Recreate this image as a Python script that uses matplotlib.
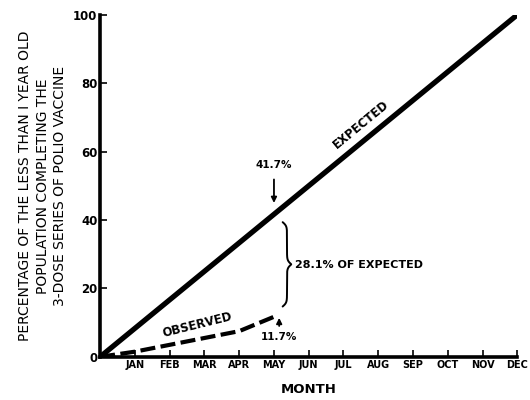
import matplotlib
matplotlib.use('Agg')
import matplotlib.pyplot as plt
import numpy as np

plt.rcParams['font.family'] = ['Liberation Sans Narrow', 'DejaVu Sans']

months = ['JAN', 'FEB', 'MAR', 'APR', 'MAY', 'JUN', 'JUL', 'AUG', 'SEP', 'OCT', 'NOV', 'DEC']
expectedX = [0, 12]
expectedY = [0, 100]
observedX = [0, 1, 2, 3, 4, 5]
observedY = [0, 1.5, 3.5, 5.5, 7.5, 11.7]
yTicks = [0, 20, 40, 60, 80, 100]


def brace(ax, x, y0, y1, w, k=22):
    t = np.linspace(0, 1, 300)
    u = np.minimum(t, 1 - t)
    g = w / 2 * np.tanh(k * u) + w / 2 * (1 - np.tanh(k * (0.5 - u)))
    ax.plot(x + g, y0 + (y1 - y0) * t, color='black', lw=1.4, solid_capstyle='round')


def main():
    fig = plt.figure(figsize=(5.3, 4), dpi=100)
    ax = fig.add_axes([0.189, 0.108, 0.787, 0.855])

    ax.plot(expectedX, expectedY, color='black', lw=3.8, solid_capstyle='butt')
    ax.plot(observedX, observedY, color='black', lw=3.0, dashes=(3.6, 1.3), dash_capstyle='butt')

    ax.set_xlim(0, 12)
    ax.set_ylim(0, 100)
    ax.set_xticks(range(1, 13))
    ax.set_xticklabels(months, fontsize=7, fontweight='bold')
    ax.set_yticks(yTicks)
    ax.set_yticklabels([str(v) for v in yTicks], fontsize=8.5, fontweight='bold')
    ax.tick_params(axis='both', direction='in', length=5, width=1.2)
    ax.tick_params(axis='x', pad=2)
    ax.tick_params(axis='y', pad=2)

    for side in ['top', 'right']:
        ax.spines[side].set_visible(False)
    for side in ['left', 'bottom']:
        ax.spines[side].set_linewidth(2.6)

    ax.set_xlabel('MONTH', fontsize=9.5, fontweight='bold', labelpad=10)
    ax.set_ylabel('PERCENTAGE OF THE LESS THAN I YEAR OLD\nPOPULATION COMPLETING THE\n3-DOSE SERIES OF POLIO VACCINE',
                  fontsize=10, linespacing=1.35, labelpad=4)

    ax.text(7.5, 68, 'EXPECTED', rotation=39.5, fontsize=8.5, fontweight='bold',
            ha='center', va='center', rotation_mode='anchor')
    ax.text(2.8, 9.2, 'OBSERVED', rotation=14, fontsize=8.5, fontweight='bold',
            ha='center', va='center', rotation_mode='anchor')

    may = 5
    expMay = expectedY[1] * may / expectedX[1]
    obsMay = observedY[-1]
    ax.annotate('', xy=(may, expMay + 2.5), xytext=(may, expMay + 11),
                arrowprops=dict(arrowstyle='-|>', color='black', lw=1.3, mutation_scale=8))
    ax.text(may, expMay + 13, '41.7%', fontsize=7.5, fontweight='bold', ha='center', va='bottom')

    ax.annotate('', xy=(may + 0.15, obsMay + 0.5), xytext=(may + 0.15, obsMay - 3.5),
                arrowprops=dict(arrowstyle='-|>', color='black', lw=1.3, mutation_scale=8))
    ax.text(may + 0.15, obsMay - 4.5, '11.7%', fontsize=7.5, fontweight='bold', ha='center', va='top')

    brace(ax, may + 0.25, obsMay + 3, expMay - 2.3, 0.25)
    ax.text(may + 0.6, 26.8, '28.1% OF EXPECTED', fontsize=8, fontweight='bold', ha='left', va='center')

    plt.savefig('out.png', dpi=100)


if __name__ == '__main__':
    main()
